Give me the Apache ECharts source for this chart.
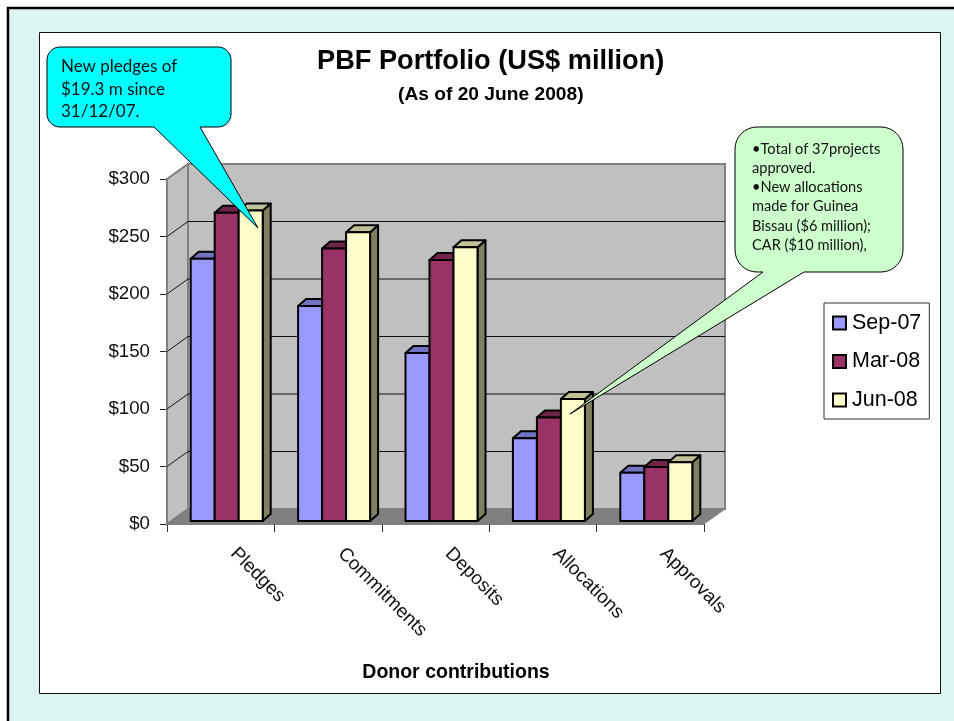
<!DOCTYPE html>
<html><head><meta charset="utf-8">
<style>html,body{margin:0;padding:0;background:#fff}#c{width:954px;height:721px}</style>
<script src="https://cdn.jsdelivr.net/npm/echarts@6/dist/echarts.min.js"></script>
</head><body><div id="c"></div>
<script>
const categories = ['Pledges','Commitments','Deposits','Allocations','Approvals'];
const sep07 = [228,187,146,72,42];
const mar08 = [268,237,227,90,47];
const jun08 = [270,251,238,106,51];
const yTicks = [50,100,150,200,250];

const seriesColors = ['#9999FF','#993366','#FFFFCC'];
const topColors = ['#7272C2','#70244A','#C2C299'];
const sideColors = ['#737399','#5C1F3D','#808060'];
const SANS = '"Liberation Sans", Arial, sans-serif';
const CALLOUT = 'Lato, "Open Sans", sans-serif';

// 3D projection constants (pixels)
const WALL_DX = 21, WALL_DY = -15;
const BAR_DX = 8, BAR_DY = -7;
const BAR_W = 24, BAR_OFFSET = -30, PLANE_DY = -3;

function wallItem(params, api) {
  const w = api.size([1,0])[0];
  const p0 = api.coord([0,0]), p1 = api.coord([categories.length-1,0]), pt = api.coord([0,300]);
  const xl = p0[0]-w/2, xr = p1[0]+w/2, yb = p0[1], yt = pt[1];
  const poly = (points, fill, stroke, lw) => ({type:'polygon',shape:{points},style:{fill,stroke,lineWidth:lw}});
  const children = [
    poly([[xl+WALL_DX,yt+WALL_DY],[xr+WALL_DX,yt+WALL_DY],[xr+WALL_DX,yb+WALL_DY],[xl+WALL_DX,yb+WALL_DY]],'#C0C0C0','#808080',2),
    poly([[xl,yb],[xl+WALL_DX,yb+WALL_DY],[xl+WALL_DX,yt+WALL_DY],[xl,yt]],'#C0C0C0','#808080',2),
    poly([[xl,yb],[xr,yb],[xr+WALL_DX,yb+WALL_DY],[xl+WALL_DX,yb+WALL_DY]],'#808080','#808080',1)
  ];
  yTicks.forEach(v => {
    const y = api.coord([0,v])[1];
    children.push({type:'polyline',shape:{points:[[xl,y],[xl+WALL_DX,y+WALL_DY],[xr+WALL_DX,y+WALL_DY]]},style:{fill:null,stroke:'#111',lineWidth:1}});
  });
  return {type:'group',children};
}
function barRenderer(idx) {
  return function (params, api) {
    const c = api.coord([api.value(0), api.value(1)]);
    const b = api.coord([api.value(0), 0]);
    const x0 = c[0]+BAR_OFFSET+idx*BAR_W, x1 = x0+BAR_W, yt = c[1]+PLANE_DY, yb = b[1]+PLANE_DY;
    const st = f => ({fill:f,stroke:'#000',lineWidth:2,lineJoin:'round'});
    return {type:'group',children:[
      {type:'polygon',shape:{points:[[x1,yt],[x1+BAR_DX,yt+BAR_DY],[x1+BAR_DX,yb+BAR_DY],[x1,yb]]},style:st(sideColors[idx])},
      {type:'polygon',shape:{points:[[x0,yt],[x0+BAR_DX,yt+BAR_DY],[x1+BAR_DX,yt+BAR_DY],[x1,yt]]},style:st(topColors[idx])},
      {type:'rect',shape:{x:x0,y:yt,width:BAR_W,height:yb-yt},style:st(seriesColors[idx])}
    ]};
  };
}
function barSeries(name, values, idx) {
  return {name,type:'custom',renderItem:barRenderer(idx),clip:false,z:3+idx,silent:true,
    itemStyle:{color:seriesColors[idx],borderColor:'#000',borderWidth:1.5},
    encode:{x:0,y:1},data:values.map((v,i)=>[i,v])};
}
function calloutLines(lines, x, y0, lh, size, color) {
  return lines.map((t,i)=>({type:'text',z:21,x:x,y:y0+i*lh,style:{text:t,font:size+'px '+CALLOUT,fill:color,verticalAlign:'middle'}}));
}
// Rounded speech-bubble outline: bottom edge carries a tail from tx0 to tip to tx1
function bubble(x0,y0,x1,y1,r,tx0,tx1,tip) {
  const pts = [];
  const arc = (cx,cy,a0) => { for (let k=0;k<=8;k++){const a=a0+k/8*Math.PI/2; pts.push([cx+r*Math.cos(a),cy+r*Math.sin(a)]);} };
  arc(x1-r,y0+r,-Math.PI/2);
  arc(x1-r,y1-r,0);
  pts.push([tx1,y1],tip,[tx0,y1]);
  arc(x0+r,y1-r,Math.PI/2);
  arc(x0+r,y0+r,Math.PI);
  return pts;
}

const chart = echarts.init(document.getElementById('c'),null,{renderer:'canvas'});
chart.setOption({
  animation:false,
  backgroundColor:'#fff',
  title:[
    {text:'PBF Portfolio (US$ million)',left:312,top:43,textStyle:{fontFamily:SANS,fontWeight:'bold',fontSize:27.2,color:'#000'}},
    {text:'(As of 20 June 2008)',left:393,top:80,textStyle:{fontFamily:SANS,fontWeight:'bold',fontSize:19.2,color:'#000'}}
  ],
  legend:{
    orient:'vertical',left:824,top:303,
    padding:[9,8,8,8],itemGap:16.5,itemWidth:13,itemHeight:13,icon:'rect',
    backgroundColor:'#fff',borderColor:'#333',borderWidth:1,selectedMode:false,
    textStyle:{fontFamily:SANS,fontSize:21.5,color:'#000',padding:[0,0,0,1]},
    data:['Sep-07','Mar-08','Jun-08']
  },
  grid:{left:167,top:179,width:537,height:345,containLabel:false},
  xAxis:{type:'category',data:categories,
    name:'Donor contributions',nameLocation:'middle',nameGap:139,
    nameTextStyle:{fontFamily:SANS,fontWeight:'bold',fontSize:19.5,color:'#000',padding:[0,0,0,41]},
    axisLine:{lineStyle:{color:'#808080',width:1}},
    axisTick:{show:true,length:8,alignWithLabel:false,lineStyle:{color:'#333'}},
    axisLabel:{rotate:-45,fontFamily:SANS,fontSize:19,color:'#111',margin:14,interval:0,padding:[0,0,0,18]}
  },
  yAxis:{type:'value',min:0,max:300,interval:50,
    axisLine:{show:true,lineStyle:{color:'#808080',width:1}},
    axisTick:{show:true,length:7,lineStyle:{color:'#222'}},
    splitLine:{show:false},
    axisLabel:{formatter:'${value}',fontFamily:SANS,fontSize:18.7,color:'#111',margin:17}
  },
  series:[
    {type:'custom',name:'walls',renderItem:wallItem,clip:false,z:1,silent:true,encode:{x:0,y:1},data:[[0,0]]},
    barSeries('Sep-07',sep07,0),
    barSeries('Mar-08',mar08,1),
    barSeries('Jun-08',jun08,2)
  ],
  graphic:[
    {type:'rect',z:-10,shape:{x:8,y:8,width:960,height:730},style:{fill:'#DDF5F1',stroke:'#000',lineWidth:2.5}},
    {type:'rect',z:-9,shape:{x:39.5,y:32.5,width:901,height:661},style:{fill:'#fff',stroke:'#111',lineWidth:1}},
    {type:'polygon',z:20,shape:{points:bubble(47,47,231,127,13,154,200,[258,228])},style:{fill:'#00FFFF',stroke:'#000',lineWidth:1}},
    ...calloutLines(['New pledges of','$19.3 m since','31/12/07.'],61,67,22.5,17,'#111'),
    {type:'polygon',z:20,shape:{points:bubble(735,127,903,272,22,763,804,[570,414])},style:{fill:'#CCFFCC',stroke:'#000',lineWidth:1}},
    ...calloutLines(['•Total of 37projects','approved.','•New allocations','made for Guinea','Bissau ($6 million);','CAR ($10 million),'],752,149,19.2,14.6,'#111')
  ]
});
</script></body></html>
